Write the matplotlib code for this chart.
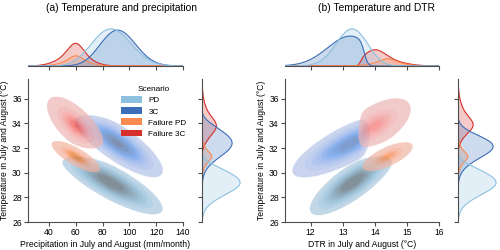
import matplotlib
matplotlib.use("Agg")
import matplotlib.pyplot as plt
import numpy as np
from matplotlib.colors import ListedColormap, to_rgb
from matplotlib.patches import Patch
from seaborn.external import husl

plt.rcParams['font.family'] = ['Liberation Sans', 'DejaVu Sans']

scenarios = ['PD', '3C', 'Failure PD', 'Failure 3C']
colors = ['#8ec0e0', '#3d6fb8', '#fb8a50', '#d7302a']
weights = [1.0, 0.87, 0.14, 0.35]
# share of each scenario packed in a tighter core (peakier than a plain gaussian)
core_share = [0.0, 0.0, 0.3, 0.3]

# July-August temperature, shared by both panels (degC)
temp_mean = [29.2, 32.4, 31.3, 33.8]
temp_sd = [1.0, 1.1, 0.6, 1.1]
temp_low = [-np.inf, -np.inf, -np.inf, 32.0]
temp_high = [31.1, 34.5, np.inf, np.inf]

# (a) precipitation (mm/month) and its correlation with temperature
precip_mean = [86, 91, 60, 60]
precip_sd = [15.0, 13.5, 8.5, 10.0]
precip_rho = [-0.82, -0.80, -0.78, -0.68]
precip_low = [-np.inf] * 4
precip_high = [np.inf] * 4

# (b) diurnal temperature range (degC) and its correlation with temperature
dtr_mean = [13.3, 13.25, 14.4, 14.0]
dtr_sd = [0.50, 0.72, 0.40, 0.55]
dtr_rho = [0.80, 0.80, 0.70, 0.60]
dtr_low = [-np.inf, -np.inf, -np.inf, 13.55]
dtr_high = [np.inf, 13.68, np.inf, np.inf]

W, H = 500, 250
FS = 6.2


def px_axes(fig, left, top, right, bottom):
    return fig.add_axes([left / W, 1 - bottom / H, (right - left) / W, (bottom - top) / H])


def density_cmap(color):
    """Same light-to-dark ramp that seaborn uses for filled bivariate kde."""
    h, s, _ = husl.rgb_to_husl(*to_rgb(color))
    xx = np.linspace(-1, 1, int(1.15 * 256))[:256]
    ramp = np.zeros((256, 3))
    ramp[:, 0] = h
    ramp[:, 1] = s * np.cos(xx)
    ramp[:, 2] = np.linspace(35, 80, 256)
    rgb = np.clip([husl.husl_to_rgb(*hsl) for hsl in ramp], 0, 1)
    return ListedColormap(rgb[::-1])


def gauss2d(X, Y, mx, my, sx, sy, rho):
    zx = (X - mx) / sx
    zy = (Y - my) / sy
    q = (zx ** 2 - 2 * rho * zx * zy + zy ** 2) / (1 - rho ** 2)
    return np.exp(-q / 2) / (sx * sy)


def soft_cut(v, low, high, soft):
    out = np.ones_like(v)
    if np.isfinite(low):
        out = out / (1 + np.exp(-(v - low) / soft))
    if np.isfinite(high):
        out = out / (1 + np.exp((v - high) / soft))
    return out


def quantile_to_level(data, quantile):
    values = np.ravel(data)
    sorted_values = np.sort(values)[::-1]
    normalized = np.cumsum(sorted_values) / values.sum()
    idx = np.searchsorted(normalized, 1 - np.asarray(quantile))
    return np.take(sorted_values, idx, mode='clip')


def densities(xs, ys, xmean, xsd, rho, lows, highs):
    X, Y = np.meshgrid(xs, ys)
    dx, dy = xs[1] - xs[0], ys[1] - ys[0]
    out = []
    for i in range(len(scenarios)):
        args = (X, Y, xmean[i], temp_mean[i])
        broad = 1.15 if core_share[i] else 1.0
        d = ((1 - core_share[i]) * gauss2d(*args, xsd[i] * broad, temp_sd[i] * broad, rho[i])
             + core_share[i] * gauss2d(*args, xsd[i] * 0.55, temp_sd[i] * 0.55, rho[i]))
        d = d * soft_cut(X, lows[i], highs[i], xsd[i] * 0.08)
        d = d * soft_cut(Y, temp_low[i], temp_high[i], temp_sd[i] * 0.25)
        d = d * weights[i] / (d.sum() * dx * dy)
        out.append(d)
    total = sum(weights)
    return X, Y, [d / total for d in out]


def band_image(d, levels, cmap, alpha):
    """Filled iso-proportion bands as an RGBA image (no seams between bands)."""
    nb = len(levels) - 1
    idx = np.digitize(d, levels) - 1
    mids = (levels[:-1] + levels[1:]) / 2
    band_colors = cmap((mids - levels[0]) / (levels[-1] - levels[0]))
    rgba = band_colors[np.clip(idx, 0, nb - 1)]
    rgba[..., 3] = np.where(idx >= 0, alpha, 0.0)
    return rgba


def draw_panel(fig, left, right, xs, xlim, xticks, xlabel, title, title_x,
               xmean, xsd, rho, lows, highs, legend=False):
    ys = np.linspace(24.5, 39, 500)
    X, Y, dens = densities(xs, ys, xmean, xsd, rho, lows, highs)
    levels = quantile_to_level(np.concatenate([d.ravel() for d in dens]),
                               np.linspace(0.05, 1, 10))

    ax = px_axes(fig, left, 79, right, 222)
    ax_top = px_axes(fig, left, 27, right, 66)
    ax_right = px_axes(fig, right + 19, 79, right + 59, 222)

    for d, c in zip(dens, colors):
        ax.imshow(band_image(d, levels, density_cmap(c), 0.7),
                  extent=[xs[0], xs[-1], ys[0], ys[-1]], origin='lower',
                  aspect='auto', interpolation='antialiased')

    dx, dy = xs[1] - xs[0], ys[1] - ys[0]
    for d, c in reversed(list(zip(dens, colors))):
        mx = d.sum(axis=0) * dy
        my = d.sum(axis=1) * dx
        ax_top.fill_between(xs, 0, mx, facecolor=c, alpha=0.25, lw=0)
        ax_top.plot(xs, mx, color=c, lw=0.8)
        ax_right.fill_betweenx(ys, 0, my, facecolor=c, alpha=0.25, lw=0)
        ax_right.plot(my, ys, color=c, lw=0.8)

    ax.set_xlim(*xlim)
    ax.set_ylim(26, 37.6)
    ax.set_xticks(xticks)
    ax.set_yticks([26, 28, 30, 32, 34, 36])
    ax.set_xlabel(xlabel, fontsize=FS, labelpad=2)
    ax.set_ylabel('Temperature in July and August (°C)', fontsize=FS, labelpad=2.5)

    ax_top.set_xlim(*xlim)
    ax_top.set_xticks(xticks)
    ax_top.set_xticklabels([])
    ax_top.set_yticks([])
    ax_top.set_ylim(0, None)

    ax_right.set_ylim(26, 37.6)
    ax_right.set_yticks([26, 28, 30, 32, 34, 36])
    ax_right.set_yticklabels([])
    ax_right.set_xticks([])
    ax_right.set_xlim(0, None)

    for a in (ax, ax_top, ax_right):
        for side in ('top', 'right'):
            a.spines[side].set_visible(False)
        a.tick_params(labelsize=FS, length=3, width=0.8, color='0.3', pad=1.5)
        for sp in a.spines.values():
            sp.set_linewidth(0.8)
            sp.set_color('0.3')
    ax_top.spines['left'].set_visible(False)
    ax_right.spines['bottom'].set_visible(False)

    if legend:
        handles = [Patch(facecolor=c, edgecolor='none') for c in colors]
        ax.legend(handles, scenarios, title='Scenario', loc='upper left',
                  bbox_to_anchor=(0.55, 1.0), frameon=False, fontsize=5.9,
                  title_fontsize=5.9, handlelength=2.6, handleheight=0.9,
                  labelspacing=0.35, handletextpad=0.8)

    fig.text(title_x / W, 1 - 8 / H, title, ha='center', va='center', fontsize=7.4)


fig = plt.figure(figsize=(5, 2.5), dpi=100)

draw_panel(fig, 28, 183, np.linspace(15, 150, 500), (24.3, 140),
           [40, 60, 80, 100, 120, 140],
           'Precipitation in July and August (mm/month)',
           '(a) Temperature and precipitation', 121,
           precip_mean, precip_sd, precip_rho, precip_low, precip_high,
           legend=True)

draw_panel(fig, 285, 439, np.linspace(10.8, 16.5, 500), (11.2, 16.0),
           [12, 13, 14, 15, 16],
           'DTR in July and August (°C)',
           '(b) Temperature and DTR', 376,
           dtr_mean, dtr_sd, dtr_rho, dtr_low, dtr_high)

fig.savefig('out.png', dpi=100)
